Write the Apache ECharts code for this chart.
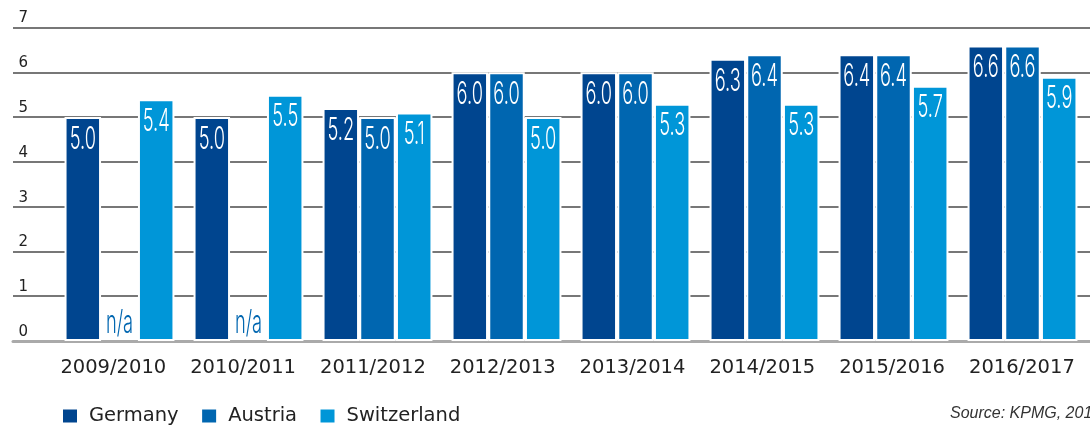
<!DOCTYPE html>
<html>
<head>
<meta charset="utf-8">
<script src="https://cdn.jsdelivr.net/npm/echarts@6/dist/echarts.min.js"></script>
<style>
html,body{margin:0;padding:0;background:#fff;}
#chart{width:1090px;height:425px;}
</style>
</head>
<body>
<div id="chart"></div>
<script>
const categories = ['2009/2010','2010/2011','2011/2012','2012/2013','2013/2014','2014/2015','2015/2016','2016/2017'];
const germany = [5.0, 5.0, 5.2, 6.0, 6.0, 6.3, 6.4, 6.6];
const austria = [null, null, 5.0, 6.0, 6.0, 6.4, 6.4, 6.6];
const switzerland = [5.4, 5.5, 5.1, 5.0, 5.3, 5.3, 5.7, 5.9];
const seriesNames = ['Germany','Austria','Switzerland'];
const yMin = 0, yMax = 7, yStep = 1;
const naText = 'n/a';
const sourceText = 'Source: KPMG, 2017';

const colors = ['#00458F','#0066B0','#0096D8'];
const PITCH = 36.7;
const TOP = 27.5, BOTTOM = 84;
const axisFont = 'DejaVu Sans';
const labelFont = '300 31.5px Inter';
const labelScale = 0.58;

function barSeries(name, values, color) {
  return {
    name: name, type: 'bar', xAxisIndex: 2, yAxisIndex: 2,
    data: values, barWidth: 36.5, barGap: '0.55%',
    itemStyle: {color: color, borderColor: '#fff', borderWidth: 2},
    silent: true, z: 3
  };
}
function labelSeries(values, k, color) {
  return {
    type: 'custom', xAxisIndex: 2, yAxisIndex: 2, silent: true, z: 6,
    data: values.map((v, i) => [i, v == null ? 0 : v]),
    encode: {x: 0, y: 1},
    renderItem: function (params, api) {
      const v = values[params.dataIndex];
      const p = api.coord([api.value(0), api.value(1)]);
      const na = v == null;
      return {
        type: 'text',
        x: p[0] + (k - 1) * PITCH,
        y: na ? p[1] - 17 : p[1] + 22.2,
        scaleX: labelScale,
        style: {
          text: na ? naText : v.toFixed(1),
          x: 0, y: 0, align: 'center', verticalAlign: 'middle',
          fill: na ? color : '#ffffff',
          font: labelFont
        }
      };
    }
  };
}

const chart = echarts.init(document.getElementById('chart'), null, {renderer: 'canvas'});
chart.setOption({
  animation: false,
  backgroundColor: '#ffffff',
  grid: [
    {left: 13, right: 0, top: TOP, bottom: BOTTOM},
    {left: 48.4, right: 3.2, top: TOP, bottom: BOTTOM},
    {left: 55, right: 3, top: TOP, bottom: BOTTOM}
  ],
  xAxis: [
    {gridIndex: 0, type: 'category', data: categories, offset: 3.5,
     axisLine: {show: true, lineStyle: {color: '#aaaaaa', width: 3}},
     axisTick: {show: false}, axisLabel: {show: false}, splitLine: {show: false}},
    {gridIndex: 1, type: 'category', data: categories,
     axisLine: {show: false}, axisTick: {show: false}, splitLine: {show: false},
     axisLabel: {show: true, interval: 0, color: '#222', fontFamily: axisFont, fontSize: 19.5, margin: 17}},
    {gridIndex: 2, type: 'category', data: categories, show: false}
  ],
  yAxis: [
    {gridIndex: 0, type: 'value', min: yMin, max: yMax, interval: yStep,
     axisLine: {show: false}, axisTick: {show: false},
     splitLine: {show: true, showMinLine: false, lineStyle: {color: '#777', width: 2}},
     axisLabel: {show: true, inside: true, margin: 5.5, color: '#222', fontFamily: axisFont, fontSize: 15,
                 verticalAlign: 'bottom', lineHeight: 18}},
    {gridIndex: 1, type: 'value', min: yMin, max: yMax, show: false},
    {gridIndex: 2, type: 'value', min: yMin, max: yMax, show: false}
  ],
  legend: {
    data: seriesNames, left: 63, top: 406, padding: 0, icon: 'rect',
    itemWidth: 14, itemHeight: 13, itemGap: 23.5,
    itemStyle: {borderWidth: 0},
    textStyle: {color: '#222', fontFamily: axisFont, fontSize: 19.5, padding: [0, 0, 0, 7]},
    selectedMode: false
  },
  graphic: [{
    type: 'text', x: 950, y: 413.5, silent: true,
    style: {text: sourceText, fill: '#333', font: 'italic 16px "Liberation Sans"', verticalAlign: 'middle'}
  }],
  series: [
    barSeries(seriesNames[0], germany, colors[0]),
    barSeries(seriesNames[1], austria, colors[1]),
    barSeries(seriesNames[2], switzerland, colors[2]),
    labelSeries(germany, 0, colors[0]),
    labelSeries(austria, 1, colors[1]),
    labelSeries(switzerland, 2, colors[2])
  ]
});
</script>
</body>
</html>
